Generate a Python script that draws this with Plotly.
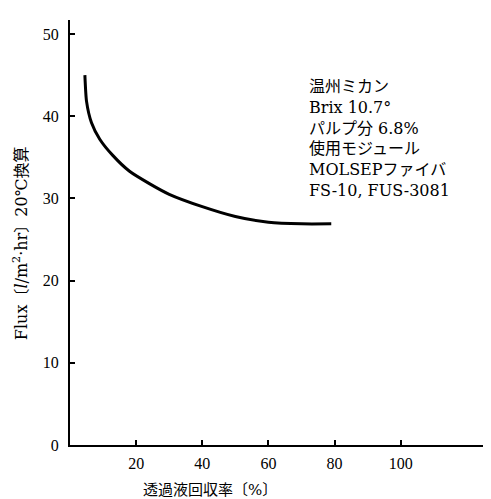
import plotly.graph_objects as go

recovery = [4.5, 5, 6.5, 9, 13, 18, 24, 30, 40, 50, 60, 70, 79]
flux = [45.0, 41.8, 39.2, 37.2, 35.2, 33.3, 31.8, 30.5, 29.0, 27.8, 27.1, 26.9, 26.9]

x_ticks = [20, 40, 60, 80, 100]
y_ticks = [0, 10, 20, 30, 40, 50]

note_lines = ["温州ミカン", "Brix 10.7°", "パルプ分 6.8%", "使用モジュール", "MOLSEPファイバ", "FS-10, FUS-3081"]
x_title = "透過液回収率〔%〕"
y_title = "Flux〔<i>l</i>/m<sup>2</sup>·hr〕20℃換算"

FONT = "DejaVu Serif, Noto Sans CJK JP, serif"

fig = go.Figure()
fig.add_trace(go.Scatter(x=recovery, y=flux, mode="lines",
                         line=dict(color="black", width=3, shape="spline", smoothing=0.6),
                         showlegend=False, hoverinfo="skip"))

fig.add_annotation(x=0.564, y=0.87, xref="paper", yref="paper", xanchor="left", yanchor="top",
                   text="<br>".join(note_lines), showarrow=False, align="left",
                   font=dict(family=FONT, size=16, color="black"))

fig.add_annotation(x=0.333, y=-0.105, xref="paper", yref="paper", xanchor="center", yanchor="middle",
                   text=x_title, showarrow=False, font=dict(family=FONT, size=15, color="black"))
fig.add_annotation(x=-0.119, y=0.475, xref="paper", yref="paper", xanchor="center", yanchor="middle",
                   text=y_title, textangle=-90, showarrow=False, font=dict(family=FONT, size=16, color="black"))

fig.update_layout(
    width=491, height=499,
    margin=dict(l=62, r=9, t=12, b=62),
    plot_bgcolor="white", paper_bgcolor="white",
    font=dict(family="Liberation Serif, serif", size=16, color="black"),
    xaxis=dict(range=[0, 127], tickvals=x_ticks, ticks="inside", ticklen=5, tickwidth=2, tickcolor="black",
               showline=True, linecolor="black", linewidth=2, showgrid=False, zeroline=False,
               automargin=False, ticklabelstandoff=3),
    yaxis=dict(range=[0, 51.7], tickvals=y_ticks, ticks="inside", ticklen=5, tickwidth=2, tickcolor="black",
               showline=True, linecolor="black", linewidth=2, showgrid=False, zeroline=False,
               automargin=False, ticklabelstandoff=6),
)

fig.write_html("out.html")
